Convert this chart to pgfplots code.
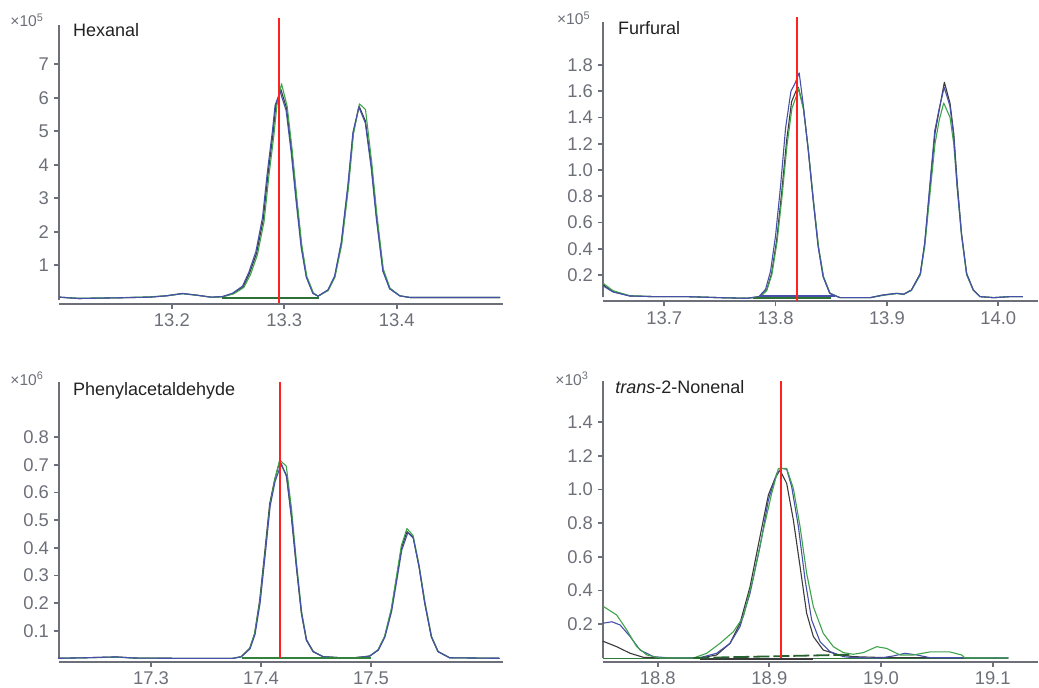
\documentclass[border=0pt]{standalone}
\usepackage{fontspec}
\setmainfont{Liberation Sans}
\usepackage{pgfplots}
\pgfplotsset{compat=1.18}

\definecolor{axisgray}{HTML}{6E7079}
\definecolor{trblack}{HTML}{3A3A3A}
\definecolor{trblue}{HTML}{4650A8}
\definecolor{trgreen}{HTML}{3FA34D}
\definecolor{redline}{HTML}{FF2020}
\definecolor{titletext}{HTML}{222222}

\pgfplotsset{
  chrom/.style={
    scale only axis, clip=false, anchor=south west,
    axis lines=left, axis line style={draw=none,-},
    tick align=outside, major tick length=2.5pt,
    tick style={axisgray, line width=0.9pt},
    every tick label/.append style={font=\fontsize{9.2}{10}\selectfont, text=axisgray},
    xticklabel style={yshift=1pt},
    yticklabel style={xshift=1pt},
    /pgf/number format/assume math mode=true,
    /pgf/number format/fixed, /pgf/number format/fixed zerofill,
    /pgf/number format/precision=1,
  },
  tr/.style={line width=0.55pt, line join=round},
}
\newcommand{\axlines}{%
  \draw[axisgray, line width=1pt] ([yshift=2pt]rel axis cs:0,0) -- (rel axis cs:0,1);
  \draw[axisgray, line width=1pt] (rel axis cs:0,0) -- (rel axis cs:1,0);}

\begin{document}
\begin{tikzpicture}
\useasboundingbox (0pt,0pt) rectangle (519.5pt,343.5pt);

% ---------- Hexanal ----------
\begin{axis}[chrom, at={(29.5pt,191.5pt)}, width=222pt, height=139.5pt,
  xmin=13.0996, xmax=13.4945, ymin=-0.164, ymax=8.176,
  xtick={13.2,13.3,13.4}, ytick={1,2,3,4,5,6,7},
  yticklabel style={/pgf/number format/precision=0}]
\axlines
\addplot[tr, trblack] coordinates {(13.100,0.04) (13.117,0.00) (13.150,0.02) (13.180,0.04) (13.195,0.08) (13.2095,0.15) (13.222,0.10) (13.235,0.04) (13.245,0.05) (13.2545,0.15) (13.2634,0.35) (13.269,0.75) (13.2753,1.35) (13.2812,2.35) (13.2856,3.74) (13.2900,4.94) (13.2924,5.75) (13.2969,6.25) (13.3020,5.69) (13.3064,4.44) (13.3109,2.94) (13.3153,1.55) (13.3197,0.65) (13.3256,0.16) (13.3300,0.07) (13.3390,0.25) (13.3449,0.65) (13.3508,1.65) (13.3567,3.34) (13.3612,4.94) (13.3665,5.75) (13.3722,5.30) (13.3775,3.94) (13.3820,2.45) (13.3878,0.85) (13.3938,0.30) (13.4027,0.08) (13.4120,0.03) (13.4500,0.03) (13.4920,0.03)};
\addplot[tr, trgreen] coordinates {(13.100,0.04) (13.117,0.01) (13.150,0.02) (13.180,0.05) (13.195,0.08) (13.2095,0.14) (13.222,0.10) (13.235,0.04) (13.245,0.05) (13.2550,0.14) (13.2640,0.33) (13.2700,0.72) (13.2760,1.30) (13.2820,2.30) (13.2864,3.70) (13.2908,4.90) (13.2935,5.80) (13.2975,6.42) (13.3025,5.75) (13.3068,4.50) (13.3112,2.98) (13.3156,1.58) (13.3200,0.66) (13.3258,0.17) (13.3300,0.07) (13.3390,0.24) (13.3449,0.63) (13.3510,1.60) (13.3570,3.30) (13.3615,4.92) (13.3668,5.82) (13.3722,5.65) (13.3778,4.05) (13.3823,2.52) (13.3880,0.88) (13.3940,0.31) (13.4027,0.08) (13.4120,0.03) (13.4500,0.03) (13.4920,0.03)};
\addplot[tr, trblue] coordinates {(13.100,0.04) (13.117,0.00) (13.150,0.02) (13.180,0.04) (13.195,0.08) (13.2095,0.15) (13.222,0.10) (13.235,0.04) (13.245,0.06) (13.2540,0.16) (13.2628,0.37) (13.2684,0.78) (13.2747,1.40) (13.2806,2.42) (13.2850,3.80) (13.2894,5.00) (13.2918,5.78) (13.2963,6.18) (13.3016,5.62) (13.3060,4.40) (13.3105,2.90) (13.3150,1.52) (13.3195,0.64) (13.3254,0.15) (13.3300,0.07) (13.3388,0.26) (13.3447,0.67) (13.3506,1.68) (13.3565,3.38) (13.3610,4.96) (13.3663,5.72) (13.3720,5.25) (13.3773,3.90) (13.3818,2.40) (13.3876,0.82) (13.3936,0.29) (13.4027,0.08) (13.4120,0.03) (13.4500,0.03) (13.4920,0.03)};
\addplot[line width=0.8pt, trgreen!70!black] coordinates {(13.2446,0.02) (13.3311,0.02)};
\addplot[line width=1pt, redline] coordinates {(13.2954,-0.12) (13.2954,8.40)};
\end{axis}

% ---------- Furfural ----------
\begin{axis}[chrom, at={(301.5pt,192.9pt)}, width=217.5pt, height=139.8pt,
  xmin=13.645, xmax=14.0357, ymin=0, ymax=2.13,
  xtick={13.7,13.8,13.9,14.0}, ytick={0.2,0.4,0.6,0.8,1.0,1.2,1.4,1.6,1.8}]
\axlines
\addplot[tr, trblack] coordinates {(13.6454,0.124) (13.654,0.073) (13.669,0.040) (13.690,0.035) (13.720,0.035) (13.750,0.027) (13.774,0.022) (13.786,0.035) (13.792,0.085) (13.7964,0.21) (13.801,0.466) (13.8054,0.82) (13.810,1.23) (13.8144,1.52) (13.8183,1.60) (13.8204,1.63) (13.8249,1.48) (13.8294,1.15) (13.8339,0.77) (13.8384,0.416) (13.8429,0.187) (13.8488,0.060) (13.8578,0.027) (13.870,0.027) (13.885,0.027) (13.897,0.048) (13.909,0.060) (13.915,0.053) (13.922,0.085) (13.930,0.21) (13.934,0.44) (13.9387,0.873) (13.9432,1.28) (13.947,1.457) (13.9516,1.668) (13.9567,1.507) (13.960,1.28) (13.9632,0.898) (13.967,0.517) (13.9716,0.21) (13.9776,0.085) (13.9836,0.035) (13.996,0.027) (14.0106,0.035) (14.022,0.035)};
\addplot[tr, trgreen] coordinates {(13.6454,0.135) (13.654,0.080) (13.669,0.042) (13.690,0.035) (13.720,0.035) (13.750,0.027) (13.774,0.022) (13.786,0.033) (13.792,0.080) (13.7966,0.20) (13.8013,0.45) (13.8057,0.79) (13.8103,1.19) (13.8147,1.47) (13.8186,1.56) (13.8206,1.62) (13.8251,1.46) (13.8296,1.14) (13.8341,0.76) (13.8386,0.41) (13.8431,0.185) (13.8490,0.060) (13.8578,0.027) (13.870,0.027) (13.885,0.027) (13.897,0.045) (13.909,0.058) (13.915,0.052) (13.922,0.082) (13.930,0.20) (13.934,0.42) (13.9387,0.82) (13.9432,1.20) (13.947,1.38) (13.951,1.51) (13.9567,1.40) (13.960,1.20) (13.9632,0.86) (13.967,0.50) (13.9716,0.20) (13.9776,0.083) (13.9836,0.035) (13.996,0.027) (14.0106,0.035) (14.022,0.035)};
\addplot[tr, trblue] coordinates {(13.6454,0.115) (13.654,0.070) (13.669,0.040) (13.690,0.035) (13.720,0.035) (13.750,0.027) (13.774,0.022) (13.785,0.035) (13.791,0.090) (13.7955,0.23) (13.8000,0.50) (13.8045,0.88) (13.8090,1.32) (13.8138,1.60) (13.8175,1.66) (13.8212,1.74) (13.8245,1.52) (13.8290,1.18) (13.8335,0.79) (13.8380,0.43) (13.8425,0.19) (13.8486,0.060) (13.8578,0.027) (13.870,0.027) (13.885,0.027) (13.897,0.048) (13.909,0.060) (13.915,0.053) (13.922,0.085) (13.930,0.21) (13.934,0.45) (13.9385,0.88) (13.9430,1.30) (13.9468,1.46) (13.9514,1.63) (13.9565,1.49) (13.960,1.26) (13.9630,0.88) (13.967,0.51) (13.9716,0.21) (13.9776,0.085) (13.9836,0.035) (13.996,0.027) (14.0106,0.035) (14.022,0.035)};
\addplot[line width=1.2pt, trgreen!70!black] coordinates {(13.780,0.025) (13.850,0.025)};
\addplot[line width=1.2pt, trblue] coordinates {(13.786,0.040) (13.8533,0.040)};
\addplot[line width=1pt, redline] coordinates {(13.8189,0) (13.8189,2.163)};
\end{axis}

% ---------- Phenylacetaldehyde ----------
\begin{axis}[chrom, at={(29.5pt,12.65pt)}, width=222pt, height=140pt,
  xmin=17.2164, xmax=17.62, ymin=-0.0123, ymax=1.0015,
  xtick={17.3,17.4,17.5}, ytick={0.1,0.2,0.3,0.4,0.5,0.6,0.7,0.8}]
\axlines
\addplot[tr, trblack] coordinates {(17.2155,0.000) (17.240,0.002) (17.2685,0.005) (17.285,0.001) (17.320,0.000) (17.3745,0.000) (17.382,0.006) (17.3897,0.036) (17.3942,0.090) (17.3988,0.210) (17.4033,0.380) (17.4079,0.560) (17.4124,0.646) (17.4170,0.712) (17.4230,0.664) (17.4276,0.513) (17.4321,0.332) (17.4367,0.163) (17.4412,0.066) (17.4473,0.024) (17.4564,0.006) (17.4806,0.000) (17.4988,0.008) (17.5064,0.030) (17.5124,0.078) (17.5185,0.175) (17.5230,0.284) (17.5276,0.398) (17.5327,0.459) (17.5382,0.440) (17.5436,0.332) (17.5488,0.200) (17.5548,0.078) (17.5609,0.024) (17.5715,0.002) (17.6170,0.000)};
\addplot[tr, trgreen] coordinates {(17.2155,0.000) (17.240,0.002) (17.2685,0.004) (17.285,0.001) (17.320,0.000) (17.3745,0.000) (17.382,0.006) (17.3897,0.035) (17.3942,0.088) (17.3990,0.205) (17.4036,0.375) (17.4082,0.555) (17.4127,0.650) (17.4170,0.718) (17.4230,0.696) (17.4278,0.540) (17.4323,0.345) (17.4369,0.170) (17.4414,0.068) (17.4475,0.025) (17.4564,0.006) (17.4806,0.000) (17.4988,0.008) (17.5064,0.031) (17.5124,0.080) (17.5185,0.180) (17.5230,0.292) (17.5276,0.408) (17.5327,0.470) (17.5382,0.445) (17.5436,0.340) (17.5490,0.205) (17.5550,0.080) (17.5610,0.025) (17.5715,0.002) (17.6170,0.000)};
\addplot[tr, trblue] coordinates {(17.2155,0.000) (17.240,0.002) (17.2685,0.005) (17.285,0.001) (17.320,0.000) (17.3745,0.000) (17.382,0.005) (17.3900,0.034) (17.3946,0.086) (17.3992,0.200) (17.4037,0.370) (17.4083,0.550) (17.4128,0.640) (17.4185,0.705) (17.4235,0.655) (17.4280,0.505) (17.4325,0.325) (17.4370,0.160) (17.4415,0.065) (17.4476,0.024) (17.4564,0.006) (17.4806,0.000) (17.4988,0.008) (17.5066,0.029) (17.5126,0.076) (17.5188,0.170) (17.5233,0.278) (17.5280,0.392) (17.5335,0.455) (17.5385,0.435) (17.5439,0.328) (17.5490,0.198) (17.5550,0.077) (17.5610,0.024) (17.5715,0.002) (17.6170,0.000)};
\addplot[line width=0.8pt, trgreen!80!black] coordinates {(17.383,0.002) (17.500,0.002)};
\addplot[line width=1pt, redline] coordinates {(17.417,0) (17.417,1.0015)};
\end{axis}

% ---------- trans-2-Nonenal ----------
\begin{axis}[chrom, at={(301.5pt,12.65pt)}, width=217.5pt, height=140.5pt,
  xmin=18.751, xmax=19.1406, ymin=-0.022, ymax=1.645,
  xtick={18.8,18.9,19.0,19.1}, ytick={0.2,0.4,0.6,0.8,1.0,1.2,1.4}]
\axlines
\addplot[line width=0.9pt, trgreen!75!black] coordinates {(18.751,-0.003) (19.114,-0.003)};
\addplot[tr, trblack] coordinates {(18.7508,0.100) (18.7633,0.067) (18.7753,0.028) (18.7872,0.004) (18.8021,0.000) (18.8379,0.000) (18.8528,0.018) (18.8648,0.087) (18.8737,0.206) (18.8827,0.423) (18.8916,0.720) (18.8991,0.967) (18.9051,1.066) (18.9095,1.115) (18.9155,1.036) (18.9215,0.818) (18.9275,0.542) (18.9334,0.265) (18.9394,0.127) (18.9483,0.047) (18.9603,0.022) (18.9752,0.008) (19.0050,0.002) (19.1140,0.000)};
\addplot[tr, trblue] coordinates {(18.7508,0.206) (18.7589,0.215) (18.7663,0.196) (18.7753,0.127) (18.7842,0.047) (18.7962,0.008) (18.8111,0.000) (18.8379,0.002) (18.8528,0.028) (18.8648,0.087) (18.8737,0.186) (18.8827,0.384) (18.8916,0.660) (18.8991,0.937) (18.9066,1.095) (18.9110,1.125) (18.9155,1.119) (18.9200,1.016) (18.9260,0.779) (18.9320,0.463) (18.9379,0.225) (18.9454,0.097) (18.9543,0.038) (18.9662,0.008) (18.9752,0.002) (18.9991,0.000) (19.0110,0.012) (19.0215,0.028) (19.0319,0.018) (19.0438,0.002) (19.1140,0.000)};
\addplot[tr, trgreen] coordinates {(18.7508,0.308) (18.7633,0.255) (18.7723,0.166) (18.7812,0.067) (18.7902,0.018) (18.8021,0.000) (18.8320,0.000) (18.8439,0.028) (18.8558,0.087) (18.8678,0.156) (18.8767,0.245) (18.8857,0.482) (18.8946,0.759) (18.9021,0.977) (18.9081,1.125) (18.9155,1.125) (18.9215,1.006) (18.9275,0.779) (18.9334,0.502) (18.9394,0.304) (18.9483,0.146) (18.9573,0.067) (18.9662,0.032) (18.9752,0.022) (18.9842,0.032) (18.9961,0.067) (19.0050,0.057) (19.0170,0.018) (19.0289,0.018) (19.0438,0.036) (19.0617,0.036) (19.0722,0.018) (19.0752,0.000) (19.1140,0.000)};
\addplot[line width=0.7pt, trblack] coordinates {(18.838,-0.006) (18.939,-0.006)};
\addplot[line width=0.9pt, trgreen!60!black, dash pattern=on 8pt off 2pt] coordinates {(18.832,0.000) (18.975,0.020)};
\addplot[line width=1pt, redline] coordinates {(18.910,0) (18.910,1.645)};
\end{axis}

% ---------- titles and multipliers ----------
\begin{scope}[every node/.style={inner sep=0pt, anchor=base west}]
\node[text=titletext, font=\fontsize{9}{11}\selectfont] at (36.35pt,325.15pt) {Hexanal};
\node[text=titletext, font=\fontsize{9}{11}\selectfont] at (308.85pt,326.35pt) {Furfural};
\node[text=titletext, font=\fontsize{9}{11}\selectfont] at (36.35pt,146pt) {Phenylacetaldehyde};
\node[text=titletext, font=\fontsize{9}{11}\selectfont] at (307.5pt,146.85pt) {\textit{trans}-2-Nonenal};
\node[text=axisgray, font=\fontsize{7.8}{9}\selectfont] at (5pt,330pt) {×10\textsuperscript{5}};
\node[text=axisgray, font=\fontsize{7.8}{9}\selectfont] at (278.35pt,331pt) {×10\textsuperscript{5}};
\node[text=axisgray, font=\fontsize{7.8}{9}\selectfont] at (5pt,151pt) {×10\textsuperscript{6}};
\node[text=axisgray, font=\fontsize{7.8}{9}\selectfont] at (277.5pt,151pt) {×10\textsuperscript{3}};
\end{scope}
\end{tikzpicture}
\end{document}
